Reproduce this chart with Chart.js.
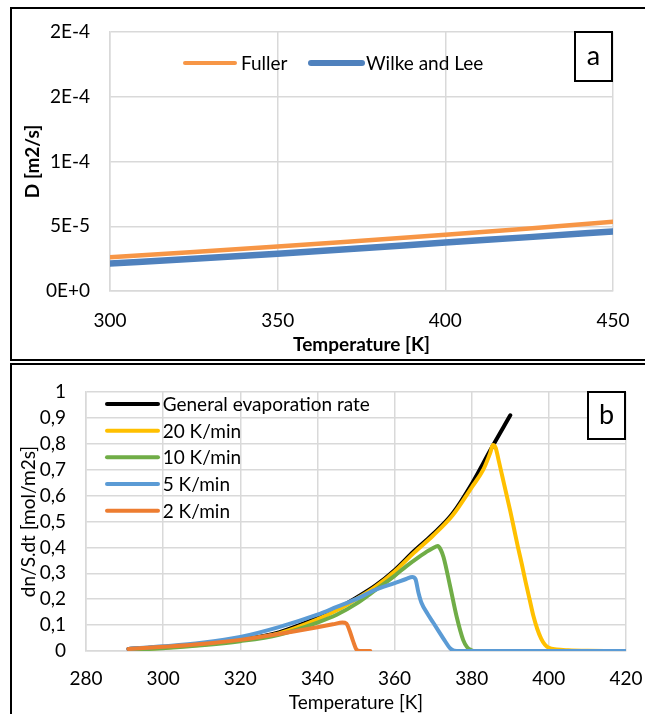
<!DOCTYPE html>
<html>
<head>
<meta charset="utf-8">
<script src="https://cdn.jsdelivr.net/npm/chart.js@4.4.0/dist/chart.umd.min.js"></script>
<style>
  html, body { margin: 0; padding: 0; background: #fff; overflow: hidden; }
  body { width: 645px; height: 714px; position: relative; }
  .frame { position: absolute; border: 2px solid #000; box-sizing: border-box; }
  #frameA { left: 10px; top: 7px; width: 700px; height: 354px; }
  #frameB { left: 10px; top: 363px; width: 700px; height: 400px; }
  canvas { position: absolute; }
  #chartA { left: 12px; top: 9px; }
  #chartB { left: 12px; top: 365px; }
</style>
</head>
<body>
<div class="frame" id="frameA"></div>
<div class="frame" id="frameB"></div>
<canvas id="chartA" width="633" height="350"></canvas>
<canvas id="chartB" width="633" height="349"></canvas>
<script>
// ---- panel a: diffusion coefficient ----
const tempA = [300, 325, 350, 375, 400, 425, 450];
const fuller = [2.61e-5, 3.01e-5, 3.43e-5, 3.88e-5, 4.34e-5, 4.83e-5, 5.35e-5];
const wilkeLee = [2.12e-5, 2.49e-5, 2.88e-5, 3.30e-5, 3.74e-5, 4.16e-5, 4.60e-5];
const yTicksA = ['0E+0', '5E-5', '1E-4', '2E-4', '2E-4'];

// ---- panel b: evaporation rate ----
const tempGeneral = [291, 300, 310, 320, 330, 340, 345, 350, 355, 360, 365, 370, 375, 380, 385, 390];
const rateGeneral = [0.008, 0.015, 0.026, 0.043, 0.072, 0.128, 0.162, 0.205, 0.252, 0.312, 0.385, 0.452, 0.53, 0.645, 0.78, 0.91];

const temp20 = [292, 300, 310, 320, 330, 340, 345, 350, 355, 360, 365, 370, 375, 380, 383, 384.8, 385.5, 386.2, 387, 388, 389, 390, 391, 392, 393, 394, 395, 396, 397, 398, 399, 400, 402, 405, 410, 420];
const rate20 = [0.005, 0.013, 0.024, 0.041, 0.068, 0.122, 0.157, 0.2, 0.248, 0.307, 0.379, 0.446, 0.523, 0.632, 0.70, 0.765, 0.795, 0.785, 0.735, 0.67, 0.605, 0.54, 0.47, 0.4, 0.335, 0.265, 0.2, 0.135, 0.085, 0.048, 0.024, 0.012, 0.006, 0.003, 0.001, 0];

const temp10 = [292, 300, 310, 320, 330, 340, 345, 350, 355, 360, 363, 366, 368, 370, 371.2, 372, 372.7, 374.4, 376.1, 377.8, 378.8, 379.8, 381, 420];
const rate10 = [0.004, 0.011, 0.022, 0.038, 0.063, 0.11, 0.14, 0.182, 0.235, 0.29, 0.327, 0.36, 0.38, 0.398, 0.405, 0.39, 0.362, 0.25, 0.132, 0.042, 0.015, 0.004, 0, 0];

const temp5 = [291, 300, 310, 320, 330, 340, 345, 350, 355, 360, 363, 364.6, 365.4, 366.2, 367, 368.5, 370, 371.5, 373, 374.3, 375.5, 377, 420];
const rate5 = [0.008, 0.018, 0.032, 0.054, 0.092, 0.14, 0.17, 0.2, 0.236, 0.262, 0.278, 0.286, 0.278, 0.225, 0.185, 0.145, 0.11, 0.075, 0.04, 0.012, 0.001, 0, 0];

const temp2 = [291, 300, 310, 320, 330, 340, 344, 346.5, 347.5, 348.3, 349.2, 350.2, 351, 353.7];
const rate2 = [0.008, 0.016, 0.027, 0.043, 0.066, 0.092, 0.103, 0.11, 0.106, 0.08, 0.04, 0.004, 0, 0];

const yTicksB = ['0', '0,1', '0,2', '0,3', '0,4', '0,5', '0,6', '0,7', '0,8', '0,9', '1'];

Chart.defaults.font.family = 'Lato';
Chart.defaults.font.size = 19;
Chart.defaults.color = '#000';

const GRID = '#d9d9d9';

function pts(xs, ys) {
    return xs.map((x, i) => ({ x: x, y: ys[i] }));
}

// draws the in-plot legend and the corner letter box
const overlay = {
    id: 'overlay',
    afterDraw(chart, args, opts) {
        const ctx = chart.ctx;
        const a = chart.chartArea;
        ctx.save();
        opts.items.forEach(it => {
            const ds = chart.data.datasets[it.index];
            ctx.strokeStyle = ds.borderColor;
            ctx.lineWidth = it.lw;
            ctx.lineCap = 'round';
            ctx.beginPath();
            ctx.moveTo(a.left + it.x1, a.top + it.y);
            ctx.lineTo(a.left + it.x2, a.top + it.y);
            ctx.stroke();
            ctx.fillStyle = '#000';
            ctx.font = '19px Lato';
            ctx.textBaseline = 'middle';
            ctx.textAlign = 'left';
            ctx.fillText(ds.label, a.left + it.tx, a.top + it.y + 1);
        });
        const b = opts.box;
        const bx = a.left + b.x, by = a.top + b.y;
        ctx.fillStyle = '#fff';
        ctx.fillRect(bx, by, b.w, b.h);
        ctx.strokeStyle = '#000';
        ctx.lineWidth = 2;
        ctx.strokeRect(bx, by, b.w, b.h);
        ctx.fillStyle = '#000';
        ctx.font = '27px Lato';
        ctx.textAlign = 'center';
        ctx.textBaseline = 'middle';
        ctx.fillText(b.text, bx + b.w / 2, by + b.h / 2);
        ctx.restore();
    }
};

// fixed axis sizes so the plot area lands where the original has it
function fixX(h) {
    return function(s) { s.height = h; s.paddingLeft = 0; s.paddingRight = 0; };
}
function fixY(w) {
    return function(s) { s.width = w; s.paddingTop = 0; s.paddingBottom = 0; };
}

new Chart(document.getElementById('chartA'), {
    type: 'line',
    data: {
        datasets: [
            { label: 'Fuller', data: pts(tempA, fuller), borderColor: '#F79646', borderWidth: 4.5 },
            { label: 'Wilke and Lee', data: pts(tempA, wilkeLee), borderColor: '#4F81BD', borderWidth: 6.5 }
        ]
    },
    options: {
        responsive: false,
        animation: false,
        layout: { padding: { top: 23, right: 32, left: 0, bottom: 0 } },
        elements: { point: { radius: 0 }, line: { cubicInterpolationMode: 'monotone', borderCapStyle: 'round' } },
        plugins: {
            legend: { display: false },
            tooltip: { enabled: false },
            overlay: {
                items: [
                    { index: 0, x1: 75, x2: 125, tx: 131, y: 31, lw: 4 },
                    { index: 1, x1: 201, x2: 252, tx: 256, y: 31, lw: 6 }
                ],
                box: { x: 465, y: 0, w: 37, h: 49, text: 'a' }
            }
        },
        scales: {
            x: {
                type: 'linear', min: 300, max: 450,
                ticks: { stepSize: 50, padding: 18.6 },
                grid: { color: GRID, lineWidth: 1.5, drawTicks: false },
                border: { color: GRID, width: 1.5 },
                title: { display: true, text: 'Temperature [K]', font: { weight: 'bold' }, padding: { top: 0, bottom: 2.6 } },
                afterFit: fixX(68)
            },
            y: {
                min: 0, max: 2e-4,
                ticks: { stepSize: 5e-5, padding: 20, callback: (v, i) => yTicksA[i] },
                grid: { color: GRID, lineWidth: 1.5, drawTicks: false },
                border: { color: GRID, width: 1.5 },
                title: { display: true, text: 'D [m2/s]', font: { weight: 'bold' }, padding: { top: 9.6, bottom: 0 } },
                afterFit: fixY(98)
            }
        }
    },
    plugins: [overlay]
});

new Chart(document.getElementById('chartB'), {
    type: 'line',
    data: {
        datasets: [
            { label: 'General evaporation rate', data: pts(tempGeneral, rateGeneral), borderColor: '#000000', order: 4 },
            { label: '20 K/min', data: pts(temp20, rate20), borderColor: '#FFC000', order: 3 },
            { label: '10 K/min', data: pts(temp10, rate10), borderColor: '#70AD47', order: 2 },
            { label: '5 K/min', data: pts(temp5, rate5), borderColor: '#5B9BD5', order: 1 },
            { label: '2 K/min', data: pts(temp2, rate2), borderColor: '#ED7D31', order: 0 }
        ]
    },
    options: {
        responsive: false,
        animation: false,
        layout: { padding: { top: 27, right: 19, left: 0, bottom: 0 } },
        elements: { point: { radius: 0 }, line: { borderWidth: 4, cubicInterpolationMode: 'monotone', borderCapStyle: 'round' } },
        plugins: {
            legend: { display: false },
            tooltip: { enabled: false },
            overlay: {
                items: [
                    { index: 0, x1: 21, x2: 72, tx: 76.7, y: 12, lw: 4 },
                    { index: 1, x1: 21, x2: 72, tx: 76.7, y: 38.7, lw: 4 },
                    { index: 2, x1: 21, x2: 72, tx: 76.7, y: 65.3, lw: 4 },
                    { index: 3, x1: 21, x2: 72, tx: 76.7, y: 92, lw: 4 },
                    { index: 4, x1: 21, x2: 72, tx: 76.7, y: 118.7, lw: 4 }
                ],
                box: { x: 502, y: 0, w: 37, h: 47, text: 'b' }
            }
        },
        scales: {
            x: {
                type: 'linear', min: 280, max: 420,
                ticks: { stepSize: 20, padding: 16.6 },
                grid: { color: GRID, lineWidth: 1.5, drawTicks: false },
                border: { color: GRID, width: 1.5 },
                title: { display: true, text: 'Temperature [K]', padding: { top: 0, bottom: 0 } },
                afterFit: fixX(63)
            },
            y: {
                min: 0, max: 1,
                ticks: { stepSize: 0.1, padding: 20, callback: (v, i) => yTicksB[i] },
                grid: { color: GRID, lineWidth: 1.5, drawTicks: false },
                border: { color: GRID, width: 1.5 },
                title: { display: true, text: 'dn/S.dt [mol/m2s]', padding: { top: 5.4, bottom: 0 } },
                afterFit: fixY(74)
            }
        }
    },
    plugins: [overlay]
});
</script>
</body>
</html>
